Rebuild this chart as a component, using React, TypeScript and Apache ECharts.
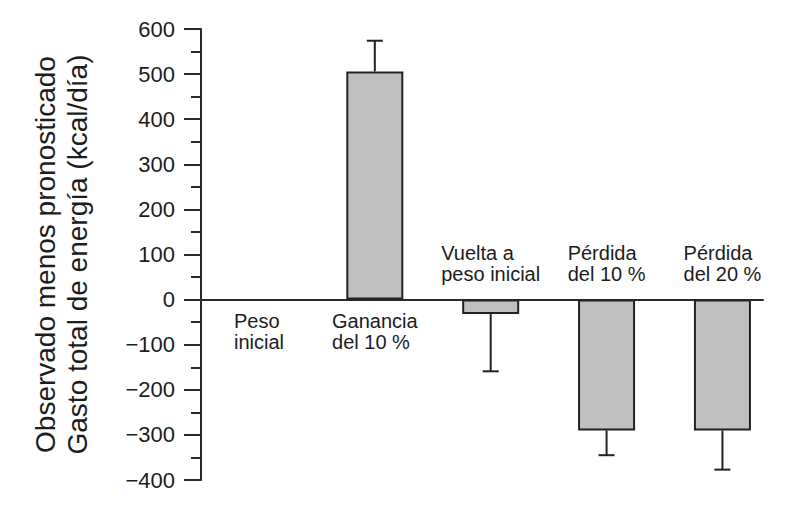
import React, { useEffect, useRef } from "react";
import * as echarts from "echarts";

const categoryLines: string[][] = [
  ["Peso", "inicial"],
  ["Ganancia", "del 10 %"],
  ["Vuelta a", "peso inicial"],
  ["Pérdida", "del 10 %"],
  ["Pérdida", "del 20 %"],
];
const labelAbove = [false, false, true, true, true];
const meanDiff: (number | null)[] = [null, 506, -32, -290, -290];
const errorSize: (number | null)[] = [null, 68, 127, 55, 87];
const yMin = -400;
const yMax = 600;
const yStep = 100;
const yTitle = ["Observado menos pronosticado", "Gasto total de energía (kcal/día)"];

const FONT = "'Liberation Sans', Arial, Helvetica, sans-serif";
const INK = "#1c1c1c";

export default function App() {
  const ref = useRef<HTMLDivElement>(null);
  useEffect(() => {
    if (!ref.current) return;
    const chart = echarts.init(ref.current, undefined, { renderer: "svg" });

    const barData = meanDiff.map((v, i) => (v === null ? [i, "-"] : [i, v]));
    const errData = meanDiff
      .map((v, i) => (v === null || errorSize[i] === null ? null : [i, v, errorSize[i] as number]))
      .filter((d) => d !== null);
    const labelData = categoryLines.map((_, i) => [i, 0, labelAbove[i] ? 1 : 0]);

    chart.setOption({
      animation: false,
      backgroundColor: "#ffffff",
      grid: { left: 193, right: 29, top: 21, bottom: 17 },
      xAxis: {
        type: "value",
        min: -0.5,
        max: 4.35,
        axisLine: { show: true, onZero: true, lineStyle: { color: "#2a2a2a", width: 2 } },
        axisTick: { show: false },
        axisLabel: { show: false },
        splitLine: { show: false },
      },
      yAxis: {
        type: "value",
        min: yMin,
        max: yMax,
        interval: yStep,
        name: yTitle.join("\n"),
        nameLocation: "middle",
        nameRotate: 90,
        nameGap: 108,
        nameTextStyle: { fontFamily: FONT, fontSize: 28, color: INK, lineHeight: 32 },
        axisLine: { show: true, onZero: false, lineStyle: { color: "#2a2a2a", width: 2 } },
        axisTick: { show: true, length: 17, lineStyle: { color: "#2a2a2a", width: 2 } },
        minorTick: { show: true, splitNumber: 2, length: 10, lineStyle: { color: "#2a2a2a", width: 2 } },
        axisLabel: {
          margin: 26,
          fontFamily: FONT,
          fontSize: 22,
          color: INK,
          formatter: (v: number) => (v < 0 ? "\u2212" + Math.abs(v) : String(v)),
        },
        splitLine: { show: false },
      },
      series: [
        {
          type: "bar",
          data: barData,
          barWidth: 57,
          itemStyle: { color: "#c0c0c0", borderColor: "#222222", borderWidth: 2 },
          z: 3,
        },
        {
          type: "custom",
          data: errData,
          z: 2,
          renderItem: (params: any, api: any) => {
            const i = api.value(0);
            const m = api.value(1);
            const e = api.value(2);
            const base = api.coord([i, m]);
            const end = api.coord([i, m + Math.sign(m) * e]);
            const cap = 8;
            const st = { stroke: "#222222", lineWidth: 2 };
            return {
              type: "group",
              children: [
                { type: "line", shape: { x1: base[0], y1: base[1], x2: end[0], y2: end[1] }, style: st },
                { type: "line", shape: { x1: end[0] - cap, y1: end[1], x2: end[0] + cap, y2: end[1] }, style: st },
              ],
            };
          },
        },
        {
          type: "custom",
          data: labelData,
          z: 5,
          renderItem: (params: any, api: any) => {
            const i = api.value(0);
            const above = api.value(2) === 1;
            const p = api.coord([i, 0]);
            const lines = categoryLines[params.dataIndex];
            return {
              type: "text",
              x: p[0],
              y: above ? p[1] - 15 : p[1] + 11,
              style: {
                text: lines.map((l) => "{a|" + l + "}").join("\n"),
                align: "center",
                verticalAlign: above ? "bottom" : "top",
                rich: {
                  a: { align: "left", fontFamily: FONT, fontSize: 20, lineHeight: 21, fill: INK },
                },
                font: "20px " + FONT,
                fill: INK,
              },
            };
          },
        },
      ],
    });
    return () => chart.dispose();
  }, []);
  return <div ref={ref} style={{ width: 784, height: 489 }} />;
}
